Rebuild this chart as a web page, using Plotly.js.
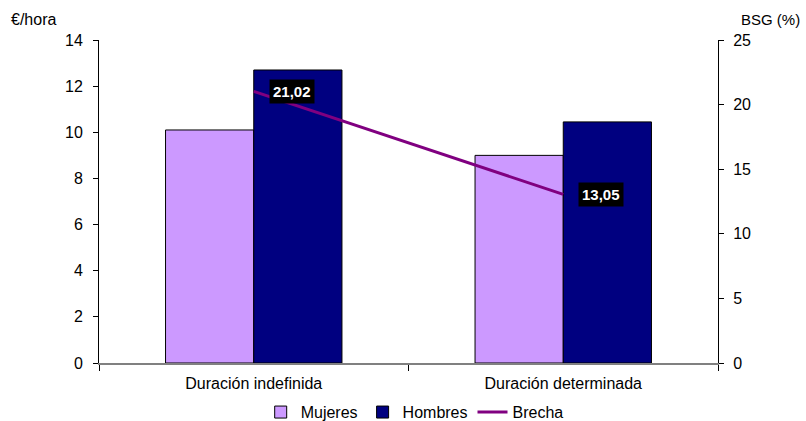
<!DOCTYPE html>
<html>
<head>
<meta charset="utf-8">
<script src="https://cdn.plot.ly/plotly-3.0.1.min.js"></script>
<style>html,body{margin:0;padding:0;background:#fff;}#chart{width:806px;height:421px;}</style>
</head>
<body>
<div id="chart"></div>
<script>
const categories = ["Duración indefinida", "Duración determinada"];
const mujeres = [10.1, 9.0];
const hombres = [12.7, 10.45];
const brecha = [21.02, 13.05];
const brechaLabels = ["21,02", "13,05"];

const font = "Liberation Sans, Arial, sans-serif";

const traces = [
  {type: "bar", name: "Mujeres", x: categories, y: mujeres,
   marker: {color: "#CC99FF", line: {color: "#000000", width: 1}}},
  {type: "bar", name: "Hombres", x: categories, y: hombres,
   marker: {color: "#000080", line: {color: "#000000", width: 1}}},
  {type: "scatter", mode: "lines", name: "Brecha", x: categories, y: brecha,
   yaxis: "y2", line: {color: "#800080", width: 3}}
];

const annotations = categories.map((c, i) => ({
  x: c, y: brecha[i], xref: "x", yref: "y2",
  text: "<b>" + brechaLabels[i] + "</b>", showarrow: false,
  xanchor: "left", yanchor: "middle", xshift: 15,
  bgcolor: "#000000", borderpad: 3,
  font: {family: font, size: 15, color: "#ffffff"}
}));
annotations.push({xref: "paper", yref: "paper", x: -0.146, y: 1.062, xanchor: "left", yanchor: "middle",
  text: "€/hora", showarrow: false, font: {family: font, size: 16, color: "#000"}});
annotations.push({xref: "paper", yref: "paper", x: 1.136, y: 1.062, xanchor: "right", yanchor: "middle",
  text: "BSG (%)", showarrow: false, font: {family: font, size: 15, color: "#000"}});

const layout = {
  width: 806, height: 421,
  margin: {l: 99, r: 88, t: 40, b: 58},
  paper_bgcolor: "#fff", plot_bgcolor: "#fff",
  font: {family: font, size: 16, color: "#000"},
  barmode: "group", bargap: 0.43, bargroupgap: 0,
  showlegend: true,
  legend: {orientation: "h", xref: "paper", yref: "container", x: 0.51, xanchor: "center",
           y: 0.021, yanchor: "middle",
           font: {family: font, size: 16, color: "#000"}, tracegroupgap: 0},
  xaxis: {type: "category", range: [-0.5, 1.5], showline: true, linecolor: "#808080", linewidth: 2,
          ticks: "outside", tickson: "boundaries", ticklen: 6, tickcolor: "#000",
          showgrid: false, zeroline: false, tickfont: {size: 16}, ticklabelstandoff: 5},
  yaxis: {range: [0, 14], dtick: 2, showline: true, linecolor: "#000", linewidth: 1,
          ticks: "outside", ticklen: 5, tickcolor: "#000", showgrid: false, zeroline: false,
          tickfont: {size: 16}, ticklabelstandoff: 7},
  yaxis2: {range: [0, 25], dtick: 5, overlaying: "y", side: "right", showline: true,
           linecolor: "#000", linewidth: 1, ticks: "outside", ticklen: 5, tickcolor: "#000",
           showgrid: false, zeroline: false, tickfont: {size: 16}, ticklabelstandoff: 6},
  annotations: annotations
};

Plotly.newPlot("chart", traces, layout, {displayModeBar: false, staticPlot: true});
</script>
</body>
</html>
